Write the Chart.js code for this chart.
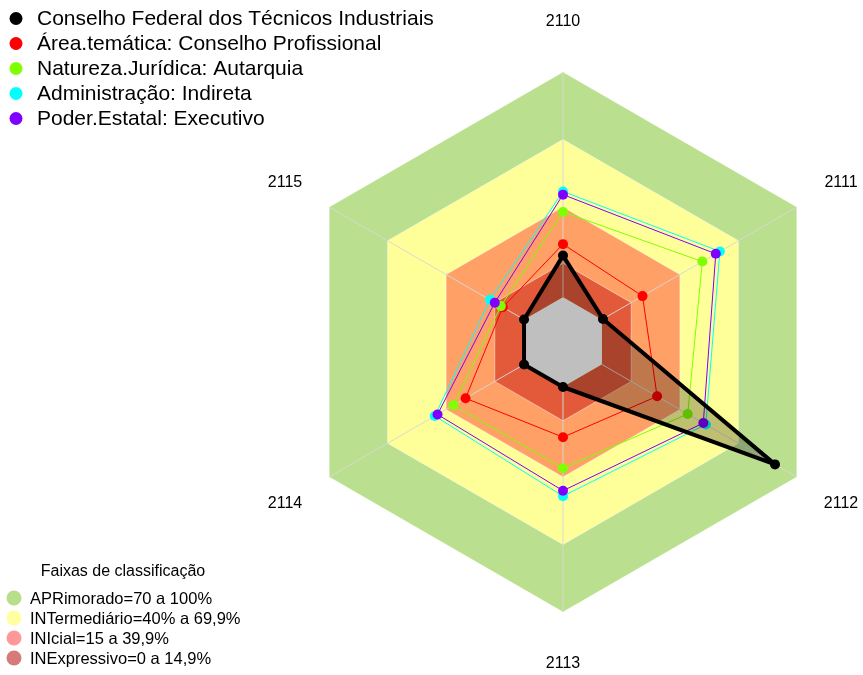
<!DOCTYPE html>
<html>
<head>
<meta charset="utf-8">
<script src="https://cdn.jsdelivr.net/npm/chart.js@4.4.0/dist/chart.umd.min.js"></script>
<style>
html,body{margin:0;padding:0;background:#fff;}
#wrap{width:863px;height:675px;position:relative;}
</style>
</head>
<body>
<div id="wrap"><canvas id="c"></canvas></div>
<script>
// ---- data ----
const categories = ['2110', '2111', '2112', '2113', '2114', '2115'];
const seriesNames = [
  'Conselho Federal dos Técnicos Industriais',
  'Área.temática: Conselho Profissional',
  'Natureza.Jurídica: Autarquia',
  'Administração: Indireta',
  'Poder.Estatal: Executivo'
];
const conselhoFederal  = [18.4, 0.5, 88.8, 0.0, 0.0, 0.0];
const areaTematica     = [23.5, 20.8, 28.3, 22.3, 30.0, 10.9];
const naturezaJuridica = [37.8, 51.5, 44.0, 36.1, 36.2, 11.9];
const administracao    = [46.9, 60.5, 53.3, 48.5, 45.8, 17.5];
const poderEstatal     = [45.5, 58.4, 52.0, 46.1, 44.4, 15.0];

const bandTitle = 'Faixas de classificação';
const bandNames = [
  'APRimorado=70 a 100%',
  'INTermediário=40% a 69,9%',
  'INIcial=15 a 39,9%',
  'INExpressivo=0 a 14,9%'
];
const bandAprimorado    = [100, 100, 100, 100, 100, 100];
const bandIntermediario = [70, 70, 70, 70, 70, 70];
const bandInicial       = [40, 40, 40, 40, 40, 40];
const bandInexpressivo  = [15, 15, 15, 15, 15, 15];
const scaleMin = -20;
const scaleMax = 100;

// ---- styles ----
const FONT = '"Liberation Sans", Arial, Helvetica, sans-serif';
const seriesColors = ['#000000', '#FF0000', '#80FF00', '#00FFFF', '#8000FF'];
const bandFill = ['rgb(186,224,143)', 'rgb(255,255,153)', 'rgb(255,161,102)', 'rgb(227,90,58)'];
const bandLegendColors = ['rgb(183,222,137)', 'rgb(255,255,160)', 'rgb(255,153,153)', 'rgb(214,122,122)'];

function seriesDs(i, data, order) {
  const black = i === 0;
  return {
    label: seriesNames[i],
    data: data,
    order: order,
    borderColor: seriesColors[i],
    backgroundColor: black ? 'rgba(0,0,0,0.25)' : 'rgba(0,0,0,0)',
    fill: black ? 'start' : false,
    borderWidth: black ? 4 : 1,
    borderJoinStyle: 'round',
    borderCapStyle: 'round',
    pointRadius: 5,
    pointBorderWidth: 0,
    pointBackgroundColor: seriesColors[i],
    pointHoverRadius: 5
  };
}
function bandDs(i, data, order) {
  return {
    label: bandNames[i],
    data: data,
    order: order,
    borderColor: 'rgba(255,255,255,0.45)',
    backgroundColor: bandFill[i],
    fill: { value: 0 },
    borderWidth: 1,
    pointRadius: 0,
    pointHoverRadius: 0
  };
}

const overlay = {
  id: 'overlay',
  afterDatasetDraw(chart, args) {
    if (args.index !== 8) return;
    const r = chart.scales.r;
    const ctx = chart.ctx;
    ctx.save();
    ctx.strokeStyle = 'rgba(215,215,215,0.95)';
    ctx.lineWidth = 1;
    for (let i = 0; i < categories.length; i++) {
      const a = r.getPointPositionForValue(i, 0);
      const b = r.getPointPositionForValue(i, scaleMax);
      ctx.beginPath();
      ctx.moveTo(a.x, a.y);
      ctx.lineTo(b.x, b.y);
      ctx.stroke();
    }
    ctx.restore();
  },
  afterDraw(chart) {
    const r = chart.scales.r;
    const ctx = chart.ctx;
    ctx.save();
    // axis labels
    ctx.fillStyle = '#000';
    ctx.font = '16px ' + FONT;
    ctx.textAlign = 'center';
    ctx.textBaseline = 'middle';
    for (let i = 0; i < categories.length; i++) {
      const p = r.getPointPosition(i, r.drawingArea + 51);
      ctx.fillText(categories[i], p.x, p.y + 1);
    }
    // series legend (top-left)
    ctx.textAlign = 'left';
    ctx.font = '21px ' + FONT;
    for (let i = 0; i < seriesNames.length; i++) {
      const y = 18.5 + 25 * i;
      ctx.beginPath();
      ctx.arc(16, y, 6.5, 0, Math.PI * 2);
      ctx.fillStyle = seriesColors[i];
      ctx.fill();
      ctx.fillStyle = '#000';
      ctx.fillText(seriesNames[i], 37, y + 1);
    }
    // band legend (bottom-left)
    ctx.font = '16px ' + FONT;
    ctx.textAlign = 'center';
    ctx.fillText(bandTitle, 123, 572);
    ctx.textAlign = 'left';
    ctx.font = '16.5px ' + FONT;
    for (let i = 0; i < bandNames.length; i++) {
      const y = 598 + 20 * i;
      ctx.beginPath();
      ctx.arc(14, y, 7.5, 0, Math.PI * 2);
      ctx.fillStyle = bandLegendColors[i];
      ctx.fill();
      ctx.fillStyle = '#000';
      ctx.fillText(bandNames[i], 30, y + 1);
    }
    ctx.restore();
  }
};

new Chart(document.getElementById('c'), {
  type: 'radar',
  data: {
    labels: categories,
    datasets: [
      seriesDs(0, conselhoFederal, 0),
      seriesDs(1, areaTematica, 4),
      seriesDs(2, naturezaJuridica, 3),
      seriesDs(3, administracao, 2),
      seriesDs(4, poderEstatal, 1),
      bandDs(0, bandAprimorado, 13),
      bandDs(1, bandIntermediario, 12),
      bandDs(2, bandInicial, 11),
      bandDs(3, bandInexpressivo, 10)
    ]
  },
  options: {
    responsive: true,
    maintainAspectRatio: false,
    animation: false,
    layout: { padding: { left: 293, right: 30, top: 72, bottom: 63 } },
    elements: { line: { tension: 0 } },
    plugins: {
      legend: { display: false },
      tooltip: { enabled: false },
      title: { display: false }
    },
    scales: {
      r: {
        min: scaleMin,
        max: scaleMax,
        startAngle: 0,
        ticks: { display: false, stepSize: 20 },
        grid: { display: false },
        angleLines: { display: false },
        pointLabels: { display: false }
      }
    }
  },
  plugins: [overlay]
});
</script>
</body>
</html>
